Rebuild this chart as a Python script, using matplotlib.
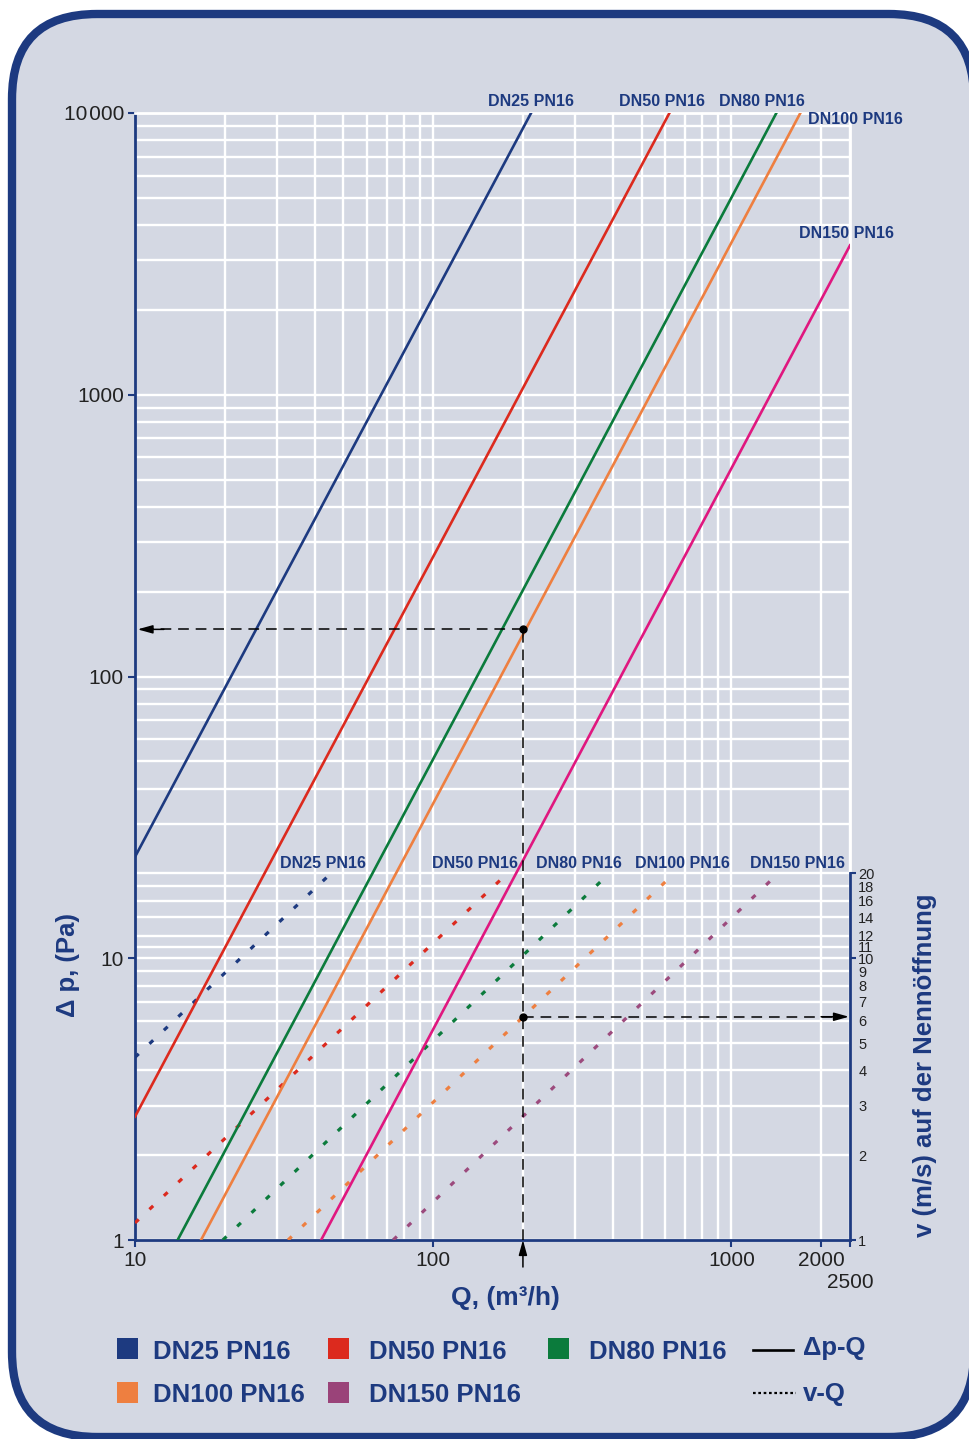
import numpy as np
import matplotlib.pyplot as plt
from matplotlib.patches import FancyBboxPatch, Rectangle
from matplotlib.lines import Line2D
from matplotlib.ticker import FixedLocator, FixedFormatter, NullFormatter

plt.rcParams['font.family'] = ['Liberation Sans', 'DejaVu Sans']

W, H = 969, 1439
NAVY = '#1d3a80'

# valve sizes and colours
names = ['DN25 PN16', 'DN50 PN16', 'DN80 PN16', 'DN100 PN16', 'DN150 PN16']
line_colors = ['#1d3a80', '#dc2a1e', '#0b7b3c', '#ee7f40', '#e0177f']
dot_colors = ['#1d3a80', '#dc2a1e', '#0b7b3c', '#ee7f40', '#9c4a7d']
key_colors = ['#1d3a80', '#dc2a1e', '#0b7b3c', '#ee7f40', '#9a4379']

# pressure drop dp-Q, end points of each line (Q in m3/h, dp in Pa)
dp_q = [[10, 213], [10, 620], [13.9, 1416], [16.65, 1704], [42.1, 2500]]
dp_pa = [[22.9, 10000], [2.74, 10000], [1, 10000], [1, 10000], [1, 3390]]

# velocity v-Q, end points of each line (v in m/s, same log scale as dp)
v_q = [[10, 44.5], [10, 172], [19.7, 378], [32.6, 624], [73.4, 1393]]
v_ms = [[4.45, 19.6], [1.15, 19.4], [1, 19.4], [1, 19.4], [1, 19.4]]

# worked example
ex_q = 200
ex_dp = 147
ex_v = 6.2

x_major = [10, 100, 1000, 2000, 2500]
x_major_lbl = ['10', '100', '1000', '2000', '\n2500']
x_minor = [20, 30, 40, 50, 60, 70, 80, 90, 200, 300, 400, 500, 600, 700, 800, 900]
y_major = [1, 10, 100, 1000, 10000]
y_major_lbl = ['1', '10', '100', '1000', '10\u200a000']
y_minor = [2, 3, 4, 5, 6, 7, 8, 9, 11, 12, 14, 16, 18, 20, 30, 40, 50, 60, 70, 80, 90,
           200, 300, 400, 500, 600, 700, 800, 900,
           2000, 3000, 4000, 5000, 6000, 7000, 8000, 9000]
v_ticks = [1, 2, 3, 4, 5, 6, 7, 8, 9, 10, 11, 12, 14, 16, 18, 20]


def px(x, y):
    return x / W, 1 - y / H


fig = plt.figure(figsize=(W / 100, H / 100), dpi=100)
fig.patch.set_facecolor('white')

box = FancyBboxPatch((0.12, 0.02), 9.62, 14.23,
                     boxstyle='round,pad=0,rounding_size=0.85',
                     transform=fig.dpi_scale_trans, fc='#d4d8e3', ec=NAVY, lw=6, zorder=0)
fig.add_artist(box)

ax = fig.add_axes([135 / W, 1 - 1240 / H, 715 / W, 1127 / H])
ax.set_facecolor('none')
ax.set_xscale('log')
ax.set_yscale('log')
ax.set_xlim(10, 2500)
ax.set_ylim(1, 10000)

ax.xaxis.set_major_locator(FixedLocator(x_major))
ax.xaxis.set_major_formatter(FixedFormatter(x_major_lbl))
ax.xaxis.set_minor_locator(FixedLocator(x_minor))
ax.xaxis.set_minor_formatter(NullFormatter())
ax.yaxis.set_major_locator(FixedLocator(y_major))
ax.yaxis.set_major_formatter(FixedFormatter(y_major_lbl))
ax.yaxis.set_minor_locator(FixedLocator(y_minor))
ax.yaxis.set_minor_formatter(NullFormatter())

ax.tick_params(which='major', direction='out', length=5, width=1.5, color=NAVY,
               labelsize=15, labelcolor='#222222', pad=3)
ax.tick_params(which='minor', length=0)
ax.grid(which='both', color='white', lw=1.7)
ax.set_axisbelow(True)

for s in ['left', 'bottom']:
    ax.spines[s].set_color(NAVY)
    ax.spines[s].set_linewidth(2)
for s in ['top', 'right']:
    ax.spines[s].set_color('white')
    ax.spines[s].set_linewidth(2)

# velocity scale on the right
ax2 = ax.twinx()
ax2.set_yscale('log')
ax2.set_ylim(1, 10000)
ax2.yaxis.set_major_locator(FixedLocator([1, 10, 20]))
ax2.yaxis.set_major_formatter(FixedFormatter(['1', '10', '20']))
ax2.yaxis.set_minor_locator(FixedLocator([t for t in v_ticks if t not in (1, 10, 20)]))
ax2.yaxis.set_minor_formatter(FixedFormatter([str(t) for t in v_ticks if t not in (1, 10, 20)]))
ax2.tick_params(which='major', direction='out', length=4, width=1.5, color=NAVY,
                labelsize=10.5, labelcolor='#222222', pad=2)
ax2.tick_params(which='minor', length=0, labelsize=10.5, labelcolor='#222222', pad=6)
for s in ['left', 'top', 'bottom']:
    ax2.spines[s].set_visible(False)
ax2.spines['right'].set_bounds(1, 20)
ax2.spines['right'].set_color(NAVY)
ax2.spines['right'].set_linewidth(2)

for i in range(len(names)):
    ax.plot(dp_q[i], dp_pa[i], color=line_colors[i], lw=1.9, zorder=3)
    ax.plot(v_q[i], v_ms[i], color=dot_colors[i], lw=2.3, ls=(0, (1.6, 4.6)), zorder=3)

# label offsets in pixels from the line ends
top_off = [(0, 12, 'center'), (-7, 12, 'center'), (-14, 12, 'center'), (8, -6, 'left'), (-4, 12, 'center')]
low_off = [(-5, 10, 'center'), (-28, 10, 'center'), (-26, 10, 'center'), (12, 10, 'center'), (23, 10, 'center')]
for i, n in enumerate(names):
    dx, dy, ha = top_off[i]
    ax.annotate(n, xy=(dp_q[i][1], dp_pa[i][1]), xytext=(dx, dy), textcoords='offset pixels',
                ha=ha, va='center', fontsize=11.5, fontweight='bold', color=NAVY,
                annotation_clip=False, zorder=5)
    dx, dy, ha = low_off[i]
    ax.annotate(n, xy=(v_q[i][1], 20), xytext=(dx, dy), textcoords='offset pixels',
                ha=ha, va='center', fontsize=11.5, fontweight='bold', color=NAVY,
                annotation_clip=False, zorder=5)

# example reading: Q -> dp and Q -> v
guide = dict(color='black', lw=1.1, ls=(0, (7, 4.5)), zorder=4)
ax.plot([ex_q, ex_q], [1, ex_dp], **guide)
ax.plot([10.6, ex_q], [ex_dp, ex_dp], **guide)
ax.plot([ex_q, 2350], [ex_v, ex_v], **guide)
head = dict(arrowstyle='-|>,head_length=0.9,head_width=0.25', color='black', lw=1.1,
            shrinkA=0, shrinkB=0)
ax.annotate('', xy=(10.2, ex_dp), xytext=(12.5, ex_dp), arrowprops=head, zorder=5)
ax.annotate('', xy=(2480, ex_v), xytext=(2000, ex_v), arrowprops=head, zorder=5)
ax.annotate('', xy=(ex_q, 1), xytext=(0, -27), textcoords='offset pixels',
            arrowprops=head, annotation_clip=False, zorder=5)
ax.plot([ex_q, ex_q], [ex_dp, ex_v], 'o', color='black', ms=5, zorder=6)

fig.text(*px(68, 965), 'Δ p, (Pa)', rotation=90, ha='center', va='center',
         fontsize=18.5, fontweight='bold', color=NAVY)
fig.text(*px(925, 1065), 'v (m/s) auf der Nennöffnung', rotation=90, ha='center', va='center',
         fontsize=18.5, fontweight='bold', color=NAVY)
fig.text(*px(505, 1298), 'Q, (m³/h)', ha='center', va='center',
         fontsize=19, fontweight='bold', color=NAVY)

# key
key_sq = [(117, 1338), (328, 1338), (548, 1338), (117, 1382), (328, 1382)]
key_tx = [(153, 1352), (369, 1352), (589, 1352), (153, 1395), (369, 1395)]
for i, n in enumerate(names):
    x0, y0 = key_sq[i]
    fig.add_artist(Rectangle(px(x0, y0 + 21), 21 / W, 21 / H, transform=fig.transFigure,
                             fc=key_colors[i], ec='none'))
    fig.text(*px(*key_tx[i]), n, ha='left', va='center', fontsize=18.5,
             fontweight='bold', color=NAVY)

fig.add_artist(Line2D([753 / W, 793 / W], [1 - 1350 / H] * 2, color='black', lw=1.9))
fig.add_artist(Line2D([753 / W, 796 / W], [1 - 1393 / H] * 2, color='black', lw=1.6,
                      ls=(0, (1.2, 1.2))))
fig.text(*px(803, 1348), 'Δp-Q', ha='left', va='center', fontsize=18.5, fontweight='bold', color=NAVY)
fig.text(*px(803, 1394), 'v-Q', ha='left', va='center', fontsize=18.5, fontweight='bold', color=NAVY)

fig.savefig('out.png', dpi=100)
